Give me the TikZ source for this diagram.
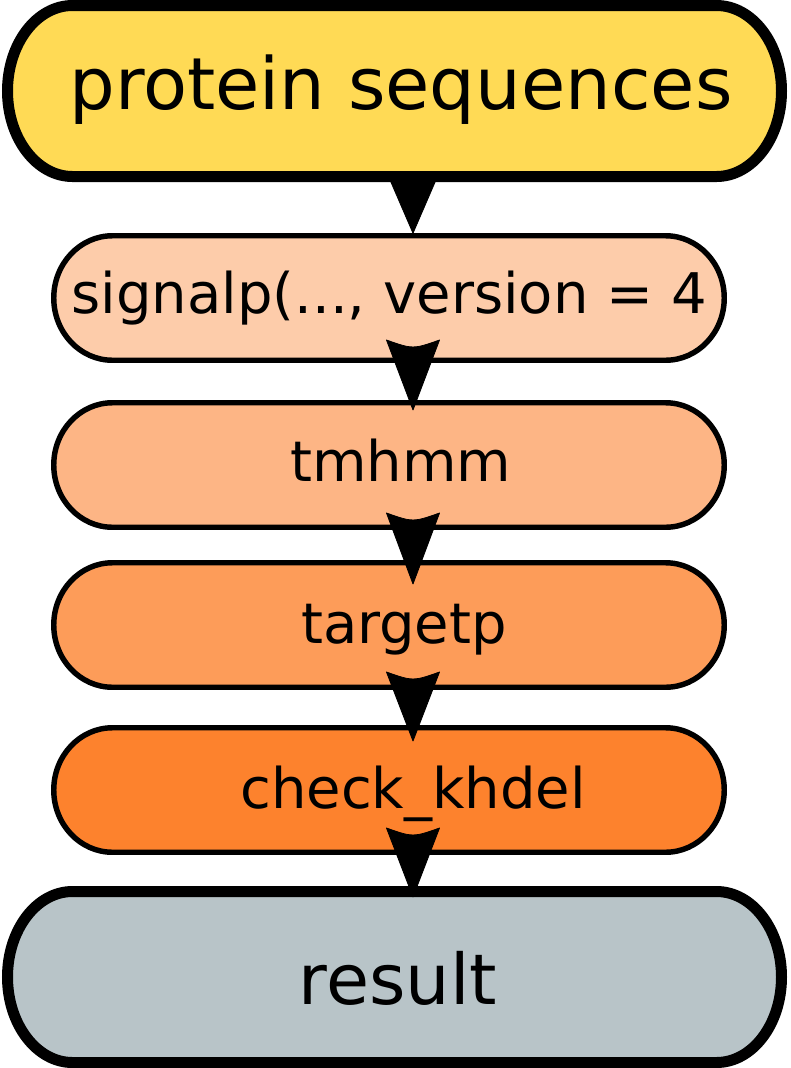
\documentclass[tikz,border=0pt]{standalone}
\usepackage{fontspec}
\setmainfont{DejaVu Sans}
\usetikzlibrary{calc}
\definecolor{cTop}{RGB}{255,218,85}
\definecolor{cSig}{RGB}{253,204,170}
\definecolor{cTm}{RGB}{253,181,133}
\definecolor{cTp}{RGB}{253,156,89}
\definecolor{cCk}{RGB}{253,130,45}
\definecolor{cRes}{RGB}{184,196,200}
% stadium outline drawn around a named (invisible) node: #1 name, #2 rx, #3 ry, #4 style
\newcommand\stadiumpath[4]{%
  \path[#4] ([xshift=#2]#1.north west) -- ([xshift=-#2]#1.north east)
    arc[start angle=90,end angle=-90,x radius=#2,y radius=#3]
    -- ([xshift=#2]#1.south west)
    arc[start angle=270,end angle=90,x radius=#2,y radius=#3] -- cycle;}
% arrowhead with concave back: #1 base centre, #2 tip, #3 half width, #4 control drop
\newcommand\flowarrow[4]{%
  \filldraw[black,line width=0.6pt,line join=round] (#2) -- ([xshift=-#3]#1)
    .. controls ([yshift=-#4]#1) .. ([xshift=#3]#1) -- cycle;}
\tikzset{
  shapebox/.style={rectangle,inner sep=0pt,outer sep=0pt},
  bigbox/.style={shapebox,minimum width=580.5pt,minimum height=128.25pt},
  midbox/.style={shapebox,minimum width=502.875pt,minimum height=93.375pt},
  bigline/.style={draw=black,line width=8.25pt},
  midline/.style={draw=black,line width=4.1pt},
  biglbl/.style={anchor=base,inner sep=0pt,font=\fontsize{54pt}{60pt}\selectfont},
  reslbl/.style={anchor=base,inner sep=0pt,font=\fontsize{52.5pt}{60pt}\selectfont},
  midlbl/.style={anchor=base,inner sep=0pt,font=\fontsize{42pt}{48pt}\selectfont},
}
\begin{document}
\begin{tikzpicture}[x=0.75pt,y=-0.75pt]
\useasboundingbox (0,0) rectangle (790,1068);
% shape nodes
\node[bigbox] (top) at (394.5,91) {};
\node[midbox] (sig) at (389,298) {};
\node[midbox] (tm)  at (389,465) {};
\node[midbox] (tp)  at (389,625) {};
\node[midbox] (ck)  at (389,790) {};
\node[bigbox] (res) at (394.5,977) {};
% outlines
\stadiumpath{top}{48.75pt}{64.125pt}{bigline,fill=cTop}
\stadiumpath{sig}{44pt}{46.6875pt}{midline,fill=cSig}
\stadiumpath{tm}{44pt}{46.6875pt}{midline,fill=cTm}
\stadiumpath{tp}{44pt}{46.6875pt}{midline,fill=cTp}
\stadiumpath{ck}{44pt}{46.6875pt}{midline,fill=cCk}
\stadiumpath{res}{48.75pt}{64.125pt}{bigline,fill=cRes}
% labels
\node[biglbl] (topL) at (401,109) {protein sequences};
\node[midlbl] (sigL) at (389,313) {signalp(..., version = 4};
\node[midlbl] (tmL)  at (401,481) {tmhmm};
\node[midlbl] (tpL)  at (404,643) {targetp};
\node[midlbl] (ckL)  at (413,808) {check\_khdel};
\node[reslbl] (resL) at (398,1004) {result};
% connectors
\coordinate (b1) at ($(top.south)+(18.5,4.5)$);
\coordinate (t1) at ($(sig.north)+(24,-2.5)$);
\filldraw[black,line width=0.6pt,line join=round] (t1) -- ([xshift=-16.9pt]b1) -- ([xshift=16.9pt]b1) -- cycle;
\coordinate (b2) at ($(sig.south)+(24,-20.25)$);
\coordinate (t2) at ($(tm.north)+(24,7.25)$);
\flowarrow{b2}{t2}{19.9pt}{7pt}
\coordinate (b3) at ($(tm.south)+(24,-14.25)$);
\coordinate (t3) at ($(tp.north)+(24,21.25)$);
\flowarrow{b3}{t3}{19.9pt}{7pt}
\coordinate (b4) at ($(tp.south)+(24,-15.25)$);
\coordinate (t4) at ($(ck.north)+(24,13.25)$);
\flowarrow{b4}{t4}{19.9pt}{7pt}
\coordinate (b5) at ($(ck.south)+(24,-24.25)$);
\coordinate (t5) at ($(res.north)+(18.5,5.5)$);
\flowarrow{b5}{t5}{19.9pt}{7pt}
\end{tikzpicture}
\end{document}
